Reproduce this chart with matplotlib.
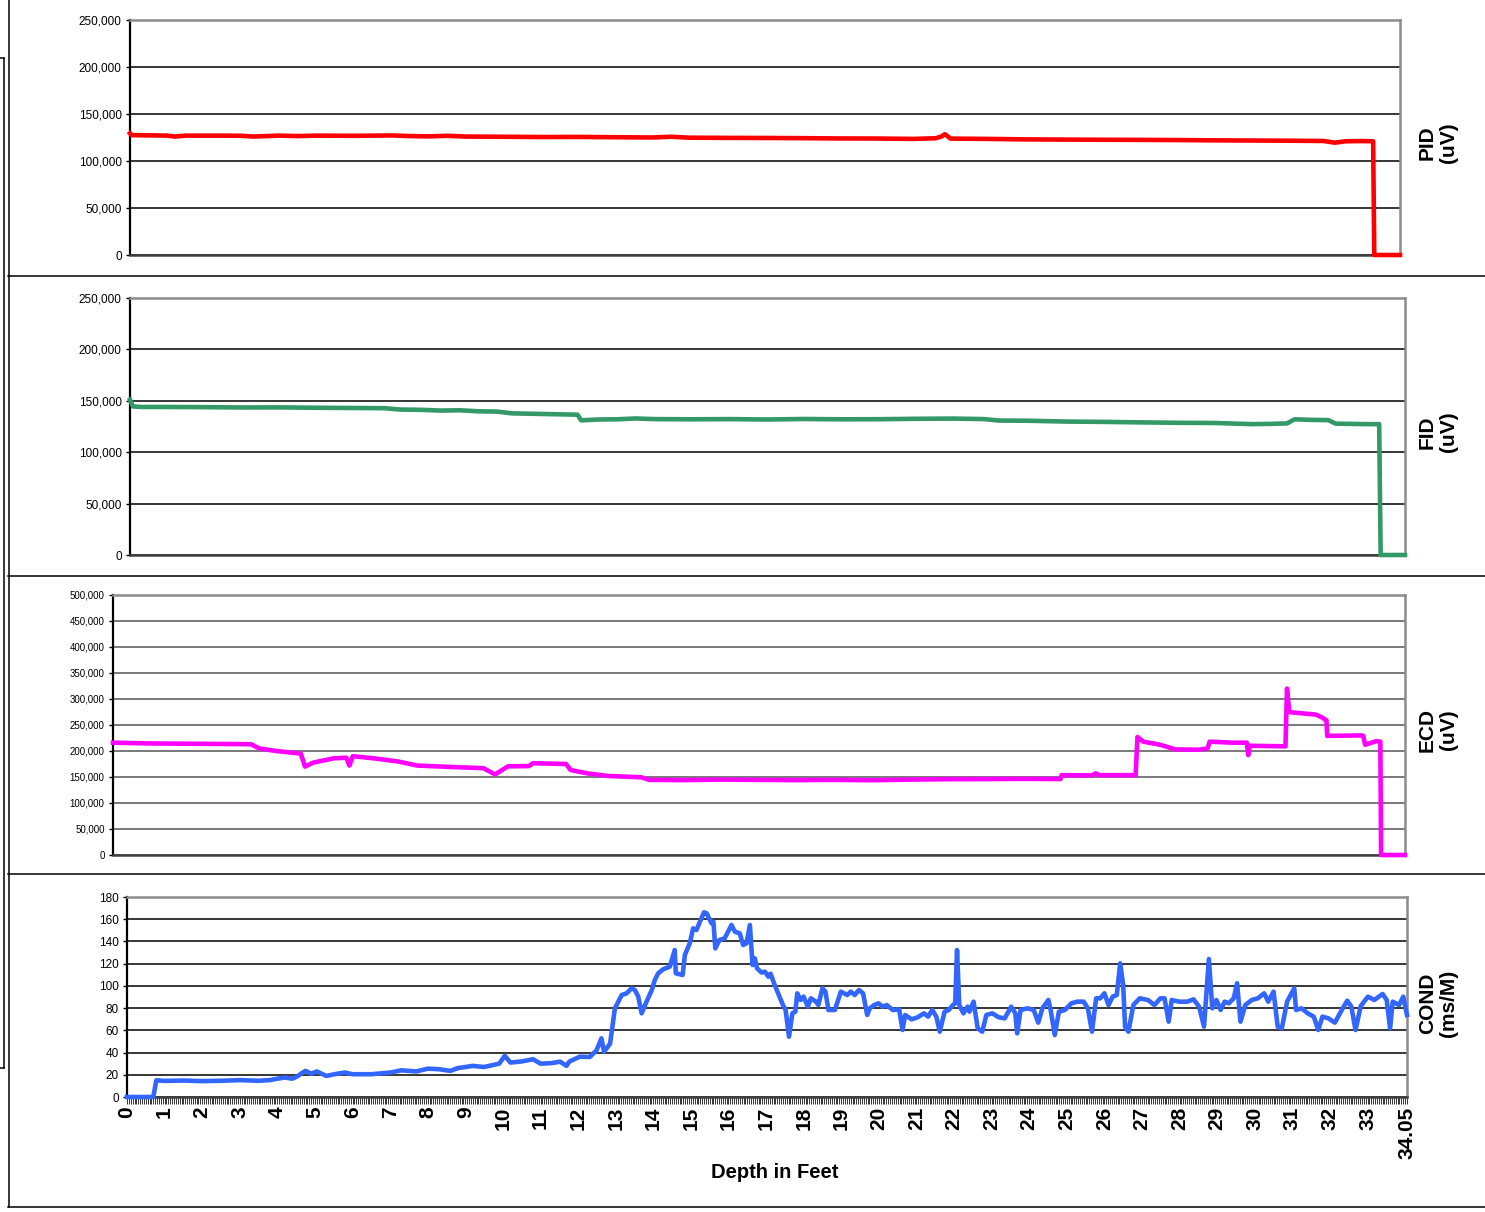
import matplotlib
matplotlib.use("Agg")
import matplotlib.pyplot as plt
from matplotlib.lines import Line2D
from matplotlib.ticker import FuncFormatter, MultipleLocator

plt.rcParams["font.family"] = ["Liberation Sans", "DejaVu Sans"]

# --- Daten ---
pid_depth = [0, 0.05, 0.5, 1.0, 1.2, 1.5, 2.5, 3.0, 3.3, 4.0, 4.5, 5.0, 6.0, 7.0, 7.5, 8.0, 8.5,
             9.0, 10.0, 11.0, 12.0, 13.0, 14.0, 14.5, 15.0, 16.0, 17.0, 18.0, 19.0, 20.0, 21.0,
             21.6, 21.75, 21.85, 22.0, 23.0, 24.0, 25.0, 26.0, 27.0, 28.0, 29.0, 30.0, 31.0,
             32.0, 32.3, 32.6, 33.0, 33.33, 33.36, 34.05]
pid_vals = [129500, 127500, 127300, 127000, 126000, 127000, 127000, 126800, 126000, 127000,
            126500, 127000, 126800, 127200, 126500, 126200, 126800, 126000, 125800, 125500,
            125600, 125300, 125000, 125800, 124800, 124600, 124500, 124300, 124000, 123900,
            123500, 124200, 126000, 128500, 123800, 123500, 123000, 122800, 122600, 122500,
            122300, 122000, 121800, 121600, 121300, 119500, 121000, 121200, 121000, 0, 0]

fid_depth = [0, 0.08, 0.3, 1, 2, 3, 4, 5, 6, 6.8, 7.2, 7.8, 8.3, 8.8, 9.3, 9.8, 10.2, 11.0,
             11.95, 12.05, 12.5, 13.0, 13.5, 14.0, 15.0, 16.0, 17.0, 18.0, 19.0, 20.0, 21.0,
             22.0, 22.8, 23.2, 24.0, 25.0, 26.0, 27.0, 28.0, 29.0, 29.5, 30.0, 30.5, 30.9,
             31.1, 31.5, 32.0, 32.2, 33.0, 33.36, 33.4, 34.05]
fid_vals = [151000, 144500, 144000, 144000, 143800, 143500, 143600, 143200, 143000, 142800,
            141500, 141200, 140500, 140800, 139800, 139500, 137800, 137200, 136500, 131000,
            131800, 132000, 132800, 132200, 132000, 132200, 131800, 132300, 132000, 132100,
            132500, 132700, 132200, 130800, 130600, 129800, 129500, 129000, 128600, 128400,
            127800, 127300, 127600, 128000, 132000, 131500, 131200, 127800, 127300, 127300, 0, 0]

ecd_depth = [0, 1.0, 2.0, 3.0, 3.64, 3.85, 4.3, 4.95, 5.06, 5.27, 5.82, 6.15, 6.23, 6.32, 6.92,
             7.5, 8.02, 9.0, 9.76, 10.07, 10.41, 10.96, 11.07, 11.94, 12.06, 12.5, 13.05, 13.92,
             14.13, 15, 16, 17, 18, 19, 20, 21, 22, 23, 24, 24.97, 25.0, 25.8, 25.9, 26.0,
             26.95, 27.0, 27.15, 27.6, 28.0, 28.6, 28.85, 28.9, 29.5, 29.88, 29.92, 29.96, 30.9,
             30.94, 31.0, 31.1, 31.7, 31.85, 31.98, 32.0, 32.9, 32.95, 33.0, 33.3, 33.4, 33.42,
             34.05]
ecd_vals = [216000, 214500, 214000, 213500, 213000, 205000, 200000, 195000, 170000, 177500,
            186000, 187000, 172000, 190000, 185500, 180000, 172000, 169000, 167000, 155000,
            170500, 171000, 176500, 175000, 163500, 157000, 152000, 149500, 144500, 144000,
            145000, 144500, 144000, 144500, 143800, 145000, 145800, 146000, 146500, 146000,
            153500, 153000, 157000, 153500, 153500, 227000, 218000, 212000, 203000, 202500,
            205000, 218000, 216000, 216000, 192000, 210000, 209000, 320000, 275000, 274000,
            270000, 265000, 259000, 229000, 230000, 229000, 212000, 219000, 218000, 0, 0]

cond_depth = [0, 0.7, 0.78, 1.0, 1.5, 2.0, 2.5, 3.0, 3.5, 3.8,
              4.0, 4.2, 4.4, 4.55, 4.65, 4.75, 4.9, 5.05, 5.3, 5.6,
              5.8, 6.0, 6.5, 7.0, 7.3, 7.7, 8.0, 8.3, 8.6, 8.8,
              9.2, 9.5, 9.9, 10.05, 10.2, 10.5, 10.8, 11.0, 11.3, 11.52,
              11.69, 11.77, 12.05, 12.31, 12.49, 12.62, 12.69, 12.85, 12.98, 13.07,
              13.16, 13.29, 13.42, 13.51, 13.6, 13.69, 13.82, 13.96, 14.04, 14.13,
              14.26, 14.44, 14.57, 14.6, 14.78, 14.84, 14.97, 15.06, 15.15, 15.24,
              15.35, 15.42, 15.55, 15.6, 15.65, 15.76, 15.9, 16.08, 16.17, 16.3,
              16.39, 16.48, 16.57, 16.64, 16.7, 16.76, 16.88, 16.97, 17.06, 17.12,
              17.23, 17.34, 17.45, 17.52, 17.61, 17.7, 17.78, 17.83, 17.92, 18.0,
              18.11, 18.19, 18.33, 18.39, 18.5, 18.58, 18.66, 18.83, 18.99, 19.16,
              19.25, 19.36, 19.47, 19.58, 19.69, 19.76, 19.88, 19.99, 20.1, 20.21,
              20.37, 20.54, 20.63, 20.7, 20.87, 21.03, 21.2, 21.31, 21.42, 21.53,
              21.62, 21.75, 21.86, 21.97, 22.03, 22.08, 22.14, 22.25, 22.36, 22.41,
              22.52, 22.63, 22.75, 22.86, 23.02, 23.19, 23.35, 23.52, 23.63, 23.68,
              23.77, 23.96, 24.12, 24.24, 24.35, 24.51, 24.57, 24.68, 24.79, 24.95,
              25.12, 25.28, 25.45, 25.56, 25.67, 25.78, 25.89, 26.0, 26.11, 26.22,
              26.33, 26.42, 26.5, 26.55, 26.64, 26.77, 26.94, 27.16, 27.33, 27.49,
              27.6, 27.71, 27.79, 27.99, 28.21, 28.37, 28.52, 28.65, 28.78, 28.87,
              28.98, 29.09, 29.2, 29.31, 29.44, 29.53, 29.62, 29.75, 29.92, 30.08,
              30.25, 30.36, 30.5, 30.61, 30.72, 30.86, 31.05, 31.1, 31.24, 31.41,
              31.57, 31.69, 31.8, 31.96, 32.13, 32.29, 32.46, 32.57, 32.68, 32.82,
              33.01, 33.18, 33.4, 33.51, 33.6, 33.67, 33.84, 33.95, 34.05]
cond_vals = [0, 0, 15, 14.5, 14.8, 14.3, 14.6, 15.2, 14.6, 15.2,
             16.5, 17.5, 16.5, 19, 21.5, 23.5, 21, 23, 19, 21,
             22, 20.5, 20.5, 22, 24, 23, 25.5, 25, 23.5, 26,
             28, 27, 30, 37, 31, 32, 34, 30, 30.5, 31.8,
             28, 32, 36.3, 36, 42, 52.8, 40.8, 48, 79.8, 85.8,
             91.8, 93.3, 97.8, 96.3, 90.3, 75.3, 85.8, 96.3, 105.3, 111.3,
             114.9, 117.3, 132.3, 111.3, 109.8, 127.8, 138.3, 151.8, 150.3, 157.8,
             166.2, 165.3, 156.3, 157.8, 133.8, 141.3, 142.8, 154.8, 148.8, 147.3,
             136.8, 138.3, 154.8, 118.8, 124.8, 115.8, 112, 112.8, 108.3, 111,
             100.8, 91.8, 82.8, 78.3, 54.3, 75.3, 76.8, 93.3, 87.3, 90.3,
             81.3, 88.8, 85.8, 82.8, 97.8, 94.8, 78.3, 78.3, 94.8, 91.8,
             94.8, 91.8, 96.3, 93.3, 73.8, 79.8, 82.8, 84.3, 81.3, 82.8,
             78.3, 78.9, 60.3, 73.8, 69.9, 71.7, 75.3, 72.3, 78.3, 72.3,
             58.8, 76.8, 78.3, 82.8, 84.3, 132.3, 82.8, 75.3, 81.3, 76.8,
             85.8, 61.8, 58.8, 73.8, 75.3, 71.7, 70.8, 81.3, 75.3, 57.3,
             78.3, 79.8, 78.3, 66.9, 79.8, 87.3, 78.3, 55.8, 76.8, 78.3,
             84.3, 85.8, 85.8, 79.8, 58.8, 88.8, 88.8, 93.3, 82.8, 90.3,
             91.8, 120.3, 100.8, 63.3, 58.8, 82.8, 88.8, 87.3, 82.8, 88.8,
             88.8, 67.8, 87.3, 85.8, 85.8, 87.9, 81.3, 63.3, 124.2, 79.8,
             87.3, 78.3, 85.8, 84.3, 88.8, 102.3, 67.8, 82.8, 87.3, 88.8,
             93.3, 85.8, 94.8, 63.3, 61.8, 85.8, 97.8, 78.3, 79.8, 75.3,
             72.3, 60.3, 72.3, 70.8, 66.9, 76.8, 86.7, 81.3, 60.3, 81.9,
             90.3, 87.3, 92.7, 87.3, 61.8, 85.8, 82.8, 90.3, 73.8]

x_ticks = list(range(34)) + [34.05]
x_ticklabels = [str(t) for t in range(34)] + ["34.05"]

W, H = 1485, 1212


def rect(x0, y0, x1, y1):
    # Pixelbox (oben links) -> Figurenkoordinaten
    return [x0 / W, 1 - y1 / H, (x1 - x0) / W, (y1 - y0) / H]


def style_panel(ax, ymax, ystep, grid_color, tick_size):
    ax.set_xlim(0, 34.05)
    ax.set_ylim(0, ymax)
    ax.yaxis.set_major_locator(MultipleLocator(ystep))
    ax.yaxis.set_major_formatter(FuncFormatter(lambda v, p: f"{int(v):,}"))
    ax.yaxis.grid(True, color=grid_color, lw=1.1)
    ax.set_axisbelow(True)
    ax.tick_params(axis="y", direction="out", length=3, width=1, labelsize=tick_size,
                   pad=3, colors="black")
    ax.spines["left"].set_color("black")
    ax.spines["left"].set_linewidth(1.6)
    ax.spines["bottom"].set_color("#404040")
    ax.spines["bottom"].set_linewidth(1.8)
    for s in ("top", "right"):
        ax.spines[s].set_color("#8c8c8c")
        ax.spines[s].set_linewidth(1.8)


fig = plt.figure(figsize=(W / 100, H / 100), dpi=100)

panels = [
    (rect(130, 20, 1400, 255), pid_depth, pid_vals, "#ff0000", 250000, 50000, "black", 8.5, "PID\n(uV)", 143),
    (rect(130, 298, 1405, 555), fid_depth, fid_vals, "#339966", 250000, 50000, "black", 8.5, "FID\n(uV)", 432),
    (rect(113, 595, 1405, 855), ecd_depth, ecd_vals, "#ff00ff", 500000, 50000, "#555555", 7, "ECD\n(uV)", 730),
    (rect(127, 897, 1407, 1097), cond_depth, cond_vals, "#3366ff", 180, 20, "black", 8.5, "COND\n(ms/M)", 1003),
]

axes = []
for box, xs, ys, color, ymax, ystep, gcol, tsize, label, ly in panels:
    ax = fig.add_axes(box)
    ax.plot(xs, ys, color=color, lw=3.3, solid_joinstyle="round", clip_on=False, zorder=5)
    style_panel(ax, ymax, ystep, gcol, tsize)
    ax.set_xticks([])
    fig.text(1438 / W, 1 - ly / H, label, rotation=90, ha="center", va="center",
             multialignment="center", fontsize=15, fontweight="bold", linespacing=1.15)
    axes.append(ax)

ax = axes[-1]
ax.set_xticks(x_ticks)
ax.set_xticklabels(x_ticklabels, rotation=90, fontsize=15, fontweight="bold")
ax.xaxis.set_minor_locator(MultipleLocator(0.05))
ax.tick_params(axis="x", which="both", direction="out", length=5, width=0.7,
               colors="#333333", pad=2)
for lbl in ax.get_xticklabels():
    lbl.set_color("black")
fig.text(775 / W, 1 - 1173 / H, "Depth in Feet", ha="center", va="center",
         fontsize=14.5, fontweight="bold")


def hline(x0, x1, y):
    fig.add_artist(Line2D([x0 / W, x1 / W], [1 - y / H, 1 - y / H],
                          transform=fig.transFigure, color="black", lw=1.1))


def vline(x, y0, y1):
    fig.add_artist(Line2D([x / W, x / W], [1 - y0 / H, 1 - y1 / H],
                          transform=fig.transFigure, color="black", lw=1.1))


# Rahmen und Trennlinien
vline(8.5, 0, 1207)
hline(8, W, 1207)
for y in (275.5, 576, 874):
    hline(8, W, y)
vline(3.5, 58, 1068)
hline(0, 4, 58)
hline(0, 4, 1068)

fig.savefig("out.png", dpi=100)
